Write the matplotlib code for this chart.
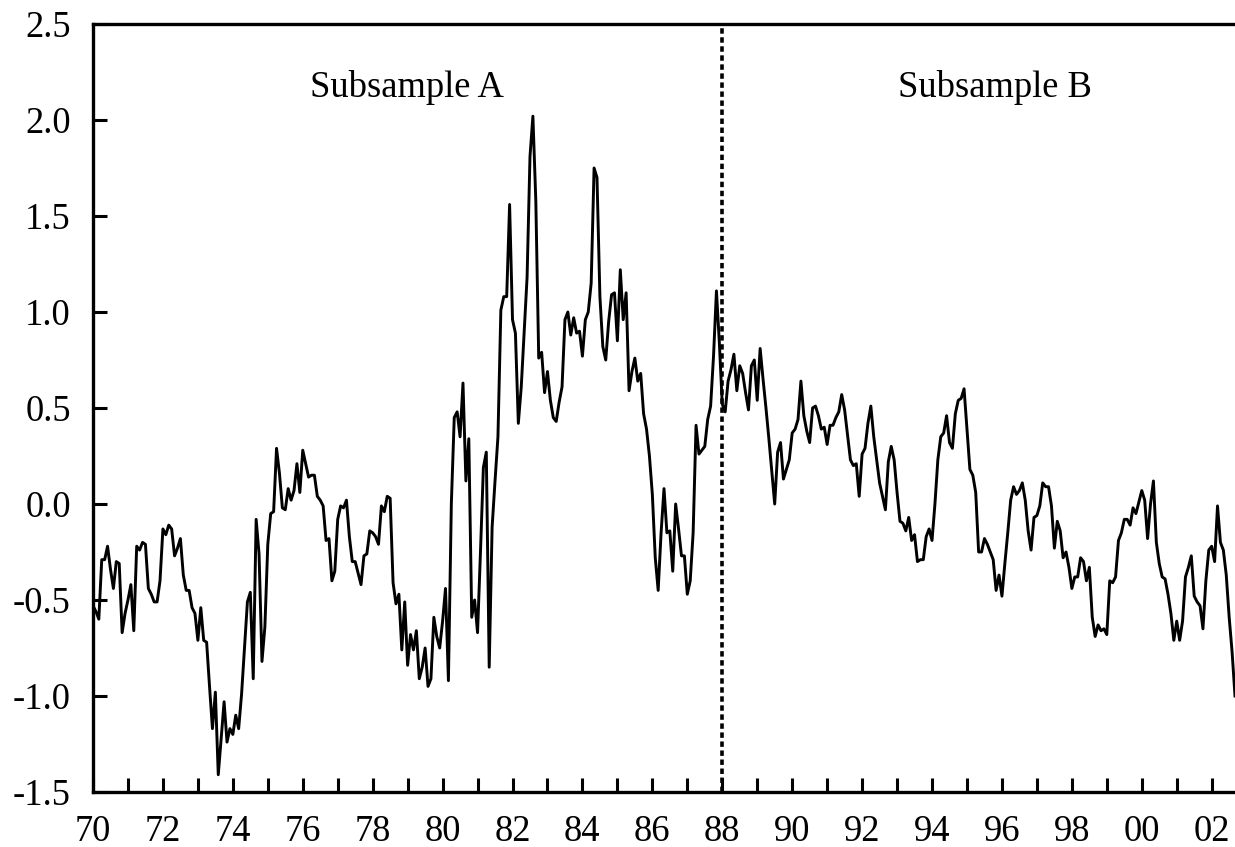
import numpy as np
import matplotlib
matplotlib.use("Agg")
import matplotlib.pyplot as plt
from matplotlib.ticker import MultipleLocator

plt.rcParams["font.family"] = ["Liberation Serif", "DejaVu Serif"]

# monthly values, Jan 1970 to Sep 2002
start_year = 70
values_1970s = [
    -0.53, -0.56, -0.60, -0.29, -0.29, -0.22, -0.34, -0.44, -0.30, -0.31, -0.67, -0.57,
    -0.50, -0.42, -0.66, -0.22, -0.24, -0.20, -0.21, -0.44, -0.47, -0.51, -0.51, -0.40,
    -0.13, -0.16, -0.11, -0.13, -0.27, -0.23, -0.18, -0.37, -0.45, -0.45, -0.54, -0.57,
    -0.71, -0.54, -0.71, -0.72, -0.95, -1.17, -0.98, -1.41, -1.22, -1.03, -1.24, -1.17,
    -1.20, -1.10, -1.17, -0.99, -0.75, -0.51, -0.46, -0.91, -0.08, -0.26, -0.82, -0.64,
    -0.21, -0.05, -0.04, 0.29, 0.16, -0.02, -0.03, 0.08, 0.02, 0.07, 0.21, 0.06,
    0.28, 0.21, 0.14, 0.15, 0.15, 0.04, 0.02, -0.01, -0.19, -0.18, -0.40, -0.35,
    -0.08, -0.01, -0.02, 0.02, -0.17, -0.30, -0.30, -0.36, -0.42, -0.27, -0.26, -0.14,
    -0.15, -0.17, -0.21, -0.01, -0.04, 0.04, 0.03, -0.41, -0.52, -0.47, -0.76, -0.51,
    -0.84, -0.68, -0.76, -0.66, -0.91, -0.85, -0.75, -0.95, -0.91, -0.59, -0.69, -0.75,
]
values_1980s = [
    -0.61, -0.44, -0.92, 0.00, 0.45, 0.48, 0.35, 0.63, 0.12, 0.34, -0.59, -0.50,
    -0.67, -0.25, 0.19, 0.27, -0.85, -0.12, 0.12, 0.35, 1.01, 1.08, 1.08, 1.56,
    0.96, 0.89, 0.42, 0.61, 0.90, 1.18, 1.81, 2.02, 1.58, 0.76, 0.79, 0.58,
    0.69, 0.54, 0.45, 0.43, 0.53, 0.61, 0.96, 1.00, 0.88, 0.97, 0.89, 0.90,
    0.77, 0.96, 1.00, 1.15, 1.75, 1.70, 1.08, 0.82, 0.75, 0.95, 1.09, 1.10,
    0.85, 1.22, 0.96, 1.10, 0.59, 0.69, 0.76, 0.64, 0.68, 0.47, 0.39, 0.25,
    0.05, -0.28, -0.45, -0.15, 0.08, -0.15, -0.14, -0.35, 0.00, -0.13, -0.27, -0.27,
    -0.47, -0.40, -0.15, 0.41, 0.26, 0.28, 0.30, 0.44, 0.51, 0.77, 1.11, 0.84,
    0.52, 0.48, 0.64, 0.70, 0.78, 0.59, 0.72, 0.68, 0.58, 0.49, 0.72, 0.75,
    0.54, 0.81, 0.65, 0.50, 0.34, 0.17, 0.00, 0.27, 0.32, 0.13, 0.18, 0.23,
]
values_1990s = [
    0.37, 0.39, 0.44, 0.64, 0.46, 0.38, 0.32, 0.50, 0.51, 0.46, 0.39, 0.40,
    0.31, 0.41, 0.41, 0.45, 0.48, 0.57, 0.49, 0.36, 0.23, 0.20, 0.21, 0.04,
    0.26, 0.29, 0.42, 0.51, 0.35, 0.23, 0.11, 0.04, -0.03, 0.22, 0.30, 0.23,
    0.06, -0.09, -0.10, -0.14, -0.07, -0.19, -0.16, -0.30, -0.29, -0.29, -0.17, -0.13,
    -0.19, 0.00, 0.23, 0.35, 0.37, 0.46, 0.32, 0.29, 0.47, 0.54, 0.55, 0.60,
    0.39, 0.18, 0.15, 0.06, -0.25, -0.25, -0.18, -0.21, -0.25, -0.29, -0.45, -0.37,
    -0.48, -0.31, -0.15, 0.02, 0.09, 0.05, 0.07, 0.11, 0.02, -0.14, -0.24, -0.07,
    -0.06, -0.01, 0.11, 0.09, 0.09, -0.01, -0.23, -0.09, -0.14, -0.28, -0.25, -0.33,
    -0.44, -0.38, -0.38, -0.28, -0.30, -0.40, -0.33, -0.59, -0.69, -0.63, -0.66, -0.65,
    -0.68, -0.40, -0.41, -0.38, -0.19, -0.15, -0.08, -0.08, -0.11, -0.02, -0.05, 0.01,
]
values_2000s = [
    0.07, 0.02, -0.18, 0.00, 0.12, -0.20, -0.31, -0.38, -0.39, -0.47, -0.57, -0.71,
    -0.61, -0.71, -0.61, -0.38, -0.33, -0.27, -0.48, -0.51, -0.53, -0.65, -0.40, -0.24,
    -0.22, -0.30, -0.01, -0.20, -0.24, -0.37, -0.59, -0.77, -1.00,
]
break_year = 88
labels = ["Subsample A", "Subsample B"]

series = np.array(values_1970s + values_1980s + values_1990s + values_2000s)
t = start_year + np.arange(len(series)) / 12.0

fig = plt.figure(figsize=(12.35, 8.47), dpi=100)
ax = fig.add_axes([93 / 1235, 55 / 847, 1 - 93 / 1235, (792 - 24) / 847])

ax.plot(t, series, color="black", lw=2.1)
ax.axvline(break_year, color="black", lw=2.6, linestyle=(0, (1.5, 1.0)))

ax.set_xlim(start_year, t[-1])
ax.set_ylim(-1.5, 2.5)

ax.xaxis.set_major_locator(MultipleLocator(2))
ax.xaxis.set_minor_locator(MultipleLocator(1))
ax.yaxis.set_major_locator(MultipleLocator(0.5))
ax.xaxis.set_major_formatter(lambda v, pos: f"{int(round(v)) % 100:02d}")
ax.yaxis.set_major_formatter(lambda v, pos: f"{v:.1f}")

ax.tick_params(axis="both", which="both", direction="in", width=2.2, length=10,
               labelsize=26.3)
ax.tick_params(axis="x", pad=16)
ax.tick_params(axis="y", pad=16)
ax.tick_params(top=False, right=False)

for side in ["left", "bottom", "top"]:
    ax.spines[side].set_linewidth(2.4)
ax.spines["right"].set_visible(False)

ax.text(78.98, 2.121, labels[0], fontsize=26.3, ha="center", va="baseline")
ax.text(95.8, 2.121, labels[1], fontsize=26.3, ha="center", va="baseline")

fig.savefig("out.png", dpi=100)
